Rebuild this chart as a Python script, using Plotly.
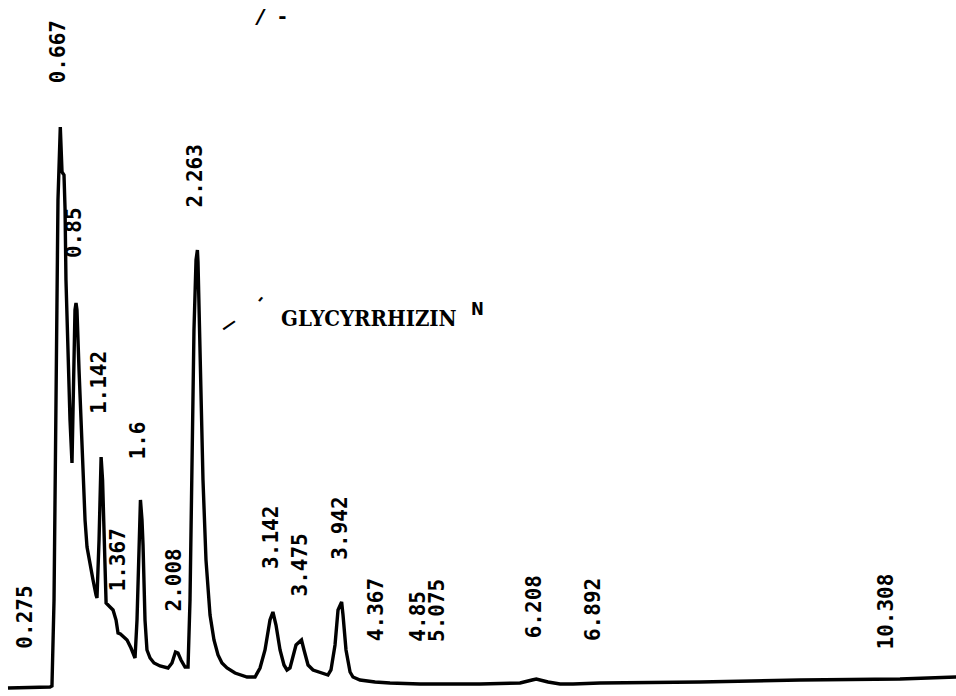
import plotly.graph_objects as go

# Chromatogram trace: retention time (min) and detector response (relative units)
time_min = [0.058, 0.547, 0.570, 0.594, 0.617, 0.640, 0.667, 0.675, 0.687, 0.710,
            0.722, 0.733, 0.757, 0.780, 0.803, 0.815, 0.827, 0.838, 0.850, 0.861,
            0.885, 0.920, 0.955, 0.978, 1.013, 1.048, 1.083, 1.094, 1.118, 1.142,
            1.159, 1.182, 1.200, 1.246, 1.281, 1.316, 1.339, 1.367, 1.397, 1.444,
            1.490, 1.525, 1.537, 1.560, 1.583, 1.600, 1.618, 1.630, 1.653, 1.676,
            1.712, 1.758, 1.828, 1.921, 1.967, 2.008, 2.037, 2.072, 2.119, 2.154,
            2.177, 2.200, 2.223, 2.247, 2.263, 2.270, 2.293, 2.328, 2.363, 2.410,
            2.456, 2.503, 2.549, 2.608, 2.701, 2.841, 2.934, 2.992, 3.050, 3.108,
            3.142, 3.178, 3.225, 3.271, 3.306, 3.341, 3.411, 3.475, 3.504, 3.551,
            3.609, 3.690, 3.783, 3.818, 3.865, 3.900, 3.942, 3.958, 3.993, 4.040,
            4.074, 4.156, 4.331, 4.505, 4.855, 5.553, 6.019, 6.159, 6.208, 6.345,
            6.485, 6.636, 6.950, 8.114, 9.278, 10.442, 11.095]
response = [0.0, 0.1, 0.2, 8.8, 28.8, 48.8, 56.1, 54.8, 51.6, 51.3,
            48.0, 40.8, 32.8, 26.8, 22.5, 26.8, 32.8, 37.8, 38.5, 37.8,
            31.8, 23.8, 16.8, 14.1, 12.3, 10.8, 9.3, 9.0, 14.8, 23.1,
            20.8, 11.8, 8.5, 8.1, 7.8, 6.8, 5.5, 5.4, 5.2, 4.8,
            4.0, 3.2, 3.0, 6.8, 14.8, 18.8, 16.8, 14.3, 6.8, 3.8,
            3.0, 2.5, 2.2, 2.0, 2.5, 3.6, 3.5, 2.8, 2.1, 2.1,
            8.8, 23.8, 35.8, 42.8, 43.8, 42.6, 33.8, 20.8, 12.8, 7.3,
            4.8, 3.3, 2.5, 2.0, 1.5, 1.1, 1.1, 2.0, 3.8, 6.8,
            7.6, 6.3, 3.8, 2.3, 1.8, 2.0, 4.3, 4.8, 3.8, 2.3,
            1.8, 1.6, 1.3, 1.8, 4.3, 7.8, 8.6, 7.3, 3.8, 1.6,
            1.1, 0.8, 0.6, 0.5, 0.4, 0.4, 0.5, 0.8, 0.9, 0.6,
            0.4, 0.4, 0.5, 0.6, 0.8, 0.9, 1.1]

# Peak retention-time labels and the height at which each is printed
peak_labels = ["0.275", "0.667", "0.85", "1.142", "1.367", "1.6", "2.008", "2.263",
               "3.142", "3.475", "3.942", "4.367", "4.85", "5.075", "6.208", "6.892", "10.308"]
peak_times = [0.275, 0.667, 0.85, 1.142, 1.367, 1.6, 2.008, 2.263,
              3.142, 3.475, 3.942, 4.367, 4.85, 5.075, 6.208, 6.892, 10.308]
label_heights = [7.1, 63.6, 45.5, 30.5, 12.8, 24.8, 10.8, 51.2,
                 15.1, 12.3, 16.0, 7.8, 7.2, 7.8, 8.1, 7.8, 7.7]

compound_name = "GLYCYRRHIZIN"

fig = go.Figure()
fig.add_trace(go.Scatter(x=time_min, y=response, mode="lines",
                         line=dict(color="black", width=3.4), hoverinfo="skip",
                         showlegend=False))

annotations = []
for lab, t, h in zip(peak_labels, peak_times, label_heights):
    annotations.append(dict(x=t, y=h, text=lab, showarrow=False, textangle=-90,
                            xshift=-2, font=dict(family="DejaVu Sans Mono", size=21,
                                                 color="black", weight="bold")))

annotations.append(dict(x=4.26, y=37.0, text=compound_name, showarrow=False,
                        font=dict(family="DejaVu Serif Condensed", size=22, color="black",
                                  weight="bold")))
annotations.append(dict(x=5.52, y=37.9, text="N", showarrow=False,
                        font=dict(family="DejaVu Sans Condensed", size=17, color="black",
                                  weight="bold")))
annotations.append(dict(x=2.62, y=36.4, text="—", showarrow=False, textangle=-35,
                        font=dict(family="DejaVu Sans", size=16, color="black",
                                  weight="bold")))
annotations.append(dict(x=2.99, y=39.0, text="-", showarrow=False, textangle=-50,
                        font=dict(family="DejaVu Sans", size=16, color="black",
                                  weight="bold")))
annotations.append(dict(x=3.12, y=67.2, text="<i>/</i>  -", showarrow=False,
                        font=dict(family="DejaVu Sans", size=20, color="black",
                                  weight="bold")))

fig.update_layout(
    width=956, height=696,
    margin=dict(l=0, r=0, t=0, b=0),
    paper_bgcolor="white", plot_bgcolor="white",
    xaxis=dict(range=[-0.035, 11.094], visible=False),
    yaxis=dict(range=[-0.8, 68.8], visible=False),
    annotations=annotations,
)

fig.write_html("out.html")
